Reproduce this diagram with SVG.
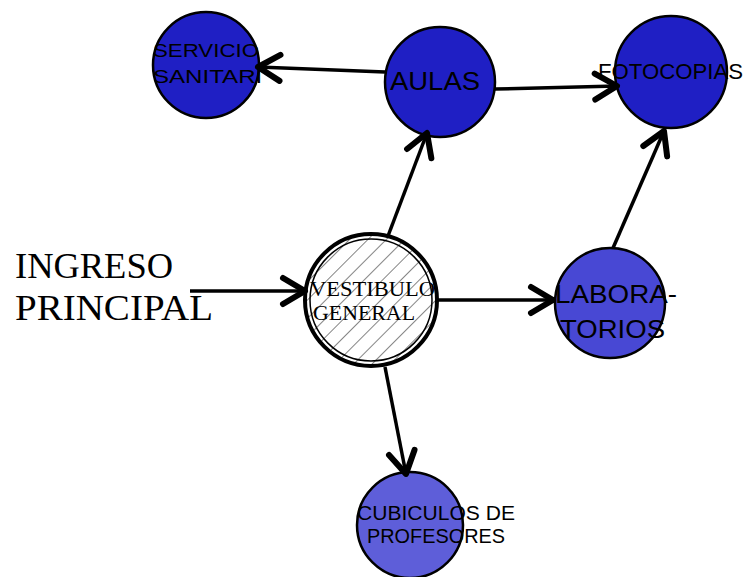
<svg xmlns="http://www.w3.org/2000/svg" width="744" height="577" viewBox="0 0 744 577">
  <style>
    .node { stroke: #000; stroke-width: 2.5; }
    .dark { fill: #1f1fc4; }
    .mid { fill: #4848d4; }
    .light { fill: #5e5ed9; }
    .lbl { font-family: "Liberation Sans", Arial, sans-serif; fill: #000; }
    .serif { font-family: "Liberation Serif", "Times New Roman", serif; fill: #000; }
    .edge { stroke: #000; stroke-width: 3.5; fill: none; marker-end: url(#head); }
  </style>
  <defs>
    <marker id="head" markerUnits="userSpaceOnUse" viewBox="-30 -16 34 32" refX="0" refY="0" markerWidth="34" markerHeight="32" orient="auto" overflow="visible">
      <path d="M-22,-13 L0,0 L-22,13" fill="none" stroke="#000" stroke-width="6" stroke-linecap="round" stroke-linejoin="round"/>
    </marker>
    <pattern id="hatch" patternUnits="userSpaceOnUse" width="13" height="13" patternTransform="rotate(45)">
      <rect width="13" height="13" fill="#fff"/>
      <line x1="0" y1="0" x2="0" y2="13" stroke="#333" stroke-width="1.2"/>
    </pattern>
    <!-- label box of the sanitary node cuts the text at its right edge -->
    <clipPath id="sanitario-box">
      <rect x="140" y="30" width="122" height="70"/>
    </clipPath>
  </defs>

  <rect width="744" height="577" fill="#fff"/>

  <!-- nodes -->
  <g id="servicio-sanitario">
    <circle class="node dark" cx="206" cy="65" r="53"/>
    <g clip-path="url(#sanitario-box)">
      <text class="lbl" x="153" y="57" font-size="19" textLength="106" lengthAdjust="spacingAndGlyphs">SERVICIO</text>
      <text class="lbl" x="153" y="83" font-size="19" textLength="128" lengthAdjust="spacingAndGlyphs">SANITARIO</text>
    </g>
  </g>

  <g id="aulas">
    <circle class="node dark" cx="440" cy="82" r="55"/>
    <text class="lbl" x="390" y="90" font-size="25" textLength="90" lengthAdjust="spacingAndGlyphs">AULAS</text>
  </g>

  <g id="fotocopias">
    <circle class="node dark" cx="671" cy="72" r="56"/>
    <text class="lbl" x="598" y="79" font-size="22" textLength="145" lengthAdjust="spacingAndGlyphs">FOTOCOPIAS</text>
  </g>

  <g id="vestibulo-general">
    <circle cx="371" cy="300" r="66" fill="url(#hatch)" stroke="#000" stroke-width="4"/>
    <circle cx="371" cy="300" r="61" fill="none" stroke="#000" stroke-width="1.5"/>
    <text class="serif" x="310" y="296" font-size="20" textLength="125" lengthAdjust="spacingAndGlyphs">VESTIBULO</text>
    <text class="serif" x="313" y="320" font-size="20" textLength="102" lengthAdjust="spacingAndGlyphs">GENERAL</text>
  </g>

  <g id="laboratorios">
    <circle class="node mid" cx="610" cy="303" r="55"/>
    <text class="lbl" x="555" y="303" font-size="25" textLength="122" lengthAdjust="spacingAndGlyphs">LABORA-</text>
    <text class="lbl" x="560" y="338" font-size="25" textLength="105" lengthAdjust="spacingAndGlyphs">TORIOS</text>
  </g>

  <g id="cubiculos-profesores">
    <circle class="node light" cx="410" cy="525" r="53"/>
    <text class="lbl" x="357" y="520" font-size="20" textLength="158" lengthAdjust="spacingAndGlyphs">CUBICULOS DE</text>
    <text class="lbl" x="367" y="543" font-size="20" textLength="138" lengthAdjust="spacingAndGlyphs">PROFESORES</text>
  </g>

  <g id="ingreso-principal">
    <text class="serif" x="15" y="278" font-size="35" textLength="158" lengthAdjust="spacingAndGlyphs">INGRESO</text>
    <text class="serif" x="15" y="320" font-size="35" textLength="198" lengthAdjust="spacingAndGlyphs">PRINCIPAL</text>
  </g>

  <!-- connectors -->
  <g id="connectors">
    <line class="edge" x1="385" y1="72" x2="258" y2="67"/>
    <line class="edge" x1="495" y1="89" x2="617" y2="86"/>
    <line class="edge" x1="388" y1="236" x2="427" y2="133"/>
    <line class="edge" x1="190" y1="291" x2="305" y2="291"/>
    <line class="edge" x1="437" y1="300" x2="553" y2="300"/>
    <line class="edge" x1="613" y1="248" x2="664" y2="131"/>
    <line class="edge" x1="385" y1="367" x2="406" y2="474"/>
  </g>
</svg>
